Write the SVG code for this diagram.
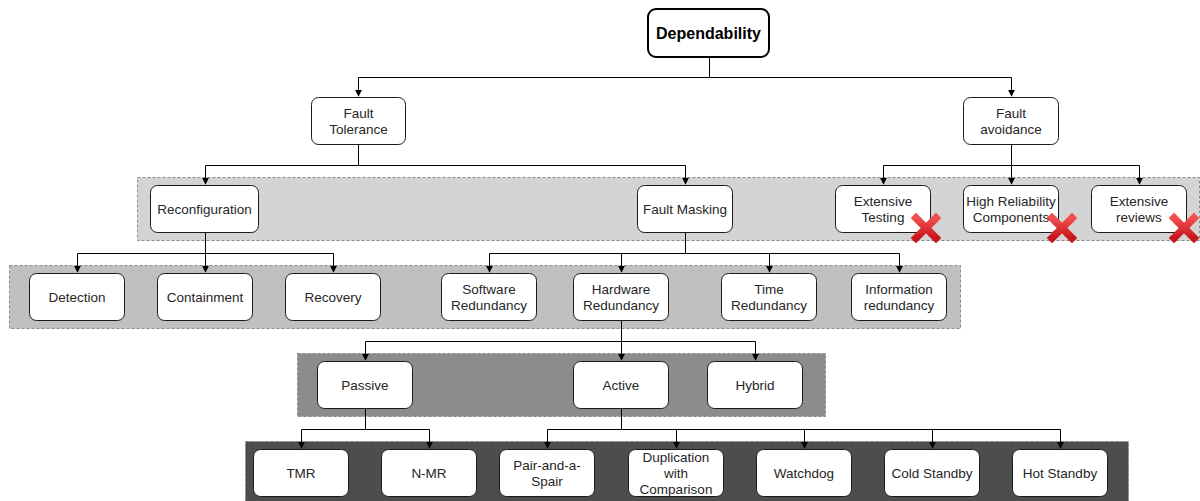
<svg xmlns="http://www.w3.org/2000/svg" width="1200" height="501" viewBox="0 0 1200 501">
  <defs>
    <marker id="arr" viewBox="0 0 10 10" refX="9" refY="5" markerWidth="7" markerHeight="7" markerUnits="userSpaceOnUse" orient="auto">
      <path d="M0,0 L10,5 L0,10 Z" fill="#000"/>
    </marker>
    <linearGradient id="xred" x1="0" y1="0" x2="0" y2="1">
      <stop offset="0" stop-color="#f25050"/>
      <stop offset="1" stop-color="#c8141b"/>
    </linearGradient>
    <g id="cross">
      <path d="M-10,-10 L10,10 M10,-10 L-10,10" stroke="url(#xred)" stroke-width="7.5" stroke-linecap="square" fill="none"/>
    </g>
  </defs>
  <style>
    .band { stroke: #8a8a8a; stroke-width: 1; stroke-dasharray: 3 2; }
    .box { fill: #fff; stroke: #1a1a1a; stroke-width: 1; }
    .root { fill: #fff; stroke: #000; stroke-width: 2; }
    .t { font-family: "Liberation Sans", Arial, sans-serif; font-size: 13.5px; fill: #262626; text-anchor: middle; }
    .tb { font-family: "Liberation Sans", Arial, sans-serif; font-size: 16px; font-weight: bold; fill: #000; text-anchor: middle; }
    .edge { fill: none; stroke: #000; stroke-width: 1; }
  </style>

  <rect width="1200" height="501" fill="#fff"/>

  <!-- grouping bands -->
  <g id="bands">
    <rect class="band" x="137.5" y="177.5" width="1062" height="63" fill="#d4d4d4"/>
    <rect class="band" x="9.5" y="265.5" width="951" height="63" fill="#c0c0c0"/>
    <rect class="band" x="297.5" y="353.5" width="528" height="63" fill="#8c8c8c"/>
    <rect class="band" x="245.5" y="441.5" width="883" height="62" fill="#4d4d4d"/>
  </g>

  <!-- connectors -->
  <g id="connectors">
    <path class="edge" d="M709.5,57 V77.5 H358.5 V96" marker-end="url(#arr)"/>
    <path class="edge" d="M709.5,77.5 H1011.5 V96" marker-end="url(#arr)"/>

    <path class="edge" d="M358.5,145 V165.5 H205.5 V184" marker-end="url(#arr)"/>
    <path class="edge" d="M358.5,165.5 H685.5 V184" marker-end="url(#arr)"/>

    <path class="edge" d="M1011.5,145 V165.5 H883.5 V184" marker-end="url(#arr)"/>
    <path class="edge" d="M1011.5,165.5 V184" marker-end="url(#arr)"/>
    <path class="edge" d="M1011.5,165.5 H1139.5 V184" marker-end="url(#arr)"/>

    <path class="edge" d="M205.5,233 V253.5 H77.5 V272" marker-end="url(#arr)"/>
    <path class="edge" d="M205.5,253.5 V272" marker-end="url(#arr)"/>
    <path class="edge" d="M205.5,253.5 H333.5 V272" marker-end="url(#arr)"/>

    <path class="edge" d="M685.5,233 V253.5 H489.5 V272" marker-end="url(#arr)"/>
    <path class="edge" d="M621.5,253.5 V272" marker-end="url(#arr)"/>
    <path class="edge" d="M685.5,253.5 H769.5 V272" marker-end="url(#arr)"/>
    <path class="edge" d="M769.5,253.5 H899.5 V272" marker-end="url(#arr)"/>

    <path class="edge" d="M621.5,321 V341.5 H365.5 V360" marker-end="url(#arr)"/>
    <path class="edge" d="M621.5,341.5 V360" marker-end="url(#arr)"/>
    <path class="edge" d="M621.5,341.5 H755.5 V360" marker-end="url(#arr)"/>

    <path class="edge" d="M365.5,409 V429.5 H301.5 V448" marker-end="url(#arr)"/>
    <path class="edge" d="M365.5,429.5 H429.5 V448" marker-end="url(#arr)"/>

    <path class="edge" d="M621.5,409 V429.5 H547.5 V448" marker-end="url(#arr)"/>
    <path class="edge" d="M621.5,429.5 H676.5 V448" marker-end="url(#arr)"/>
    <path class="edge" d="M676.5,429.5 H804.5 V448" marker-end="url(#arr)"/>
    <path class="edge" d="M804.5,429.5 H932.5 V448" marker-end="url(#arr)"/>
    <path class="edge" d="M932.5,429.5 H1060.5 V448" marker-end="url(#arr)"/>
  </g>

  <!-- level 0 -->
  <g id="dependability">
    <rect class="root" x="648" y="9" width="121" height="48" rx="8"/>
    <text class="tb" x="708.5" y="39">Dependability</text>
  </g>

  <!-- level 1 -->
  <g id="fault-tolerance">
    <rect class="box" x="311.5" y="97.5" width="94" height="47" rx="7"/>
    <text class="t" x="358.5" y="117.5">Fault</text>
    <text class="t" x="358.5" y="133.5">Tolerance</text>
  </g>
  <g id="fault-avoidance">
    <rect class="box" x="963.5" y="97.5" width="95" height="47" rx="7"/>
    <text class="t" x="1011" y="117.5">Fault</text>
    <text class="t" x="1011" y="133.5">avoidance</text>
  </g>

  <!-- level 2 -->
  <g id="reconfiguration">
    <rect class="box" x="150.5" y="185.5" width="108" height="47" rx="7"/>
    <text class="t" x="204.5" y="214">Reconfiguration</text>
  </g>
  <g id="fault-masking">
    <rect class="box" x="637.5" y="185.5" width="95" height="47" rx="7"/>
    <text class="t" x="685" y="214">Fault Masking</text>
  </g>
  <g id="extensive-testing">
    <rect class="box" x="835.5" y="185.5" width="95" height="47" rx="7"/>
    <text class="t" x="883" y="205.5">Extensive</text>
    <text class="t" x="883" y="221.5">Testing</text>
    <use href="#cross" x="926" y="228"/>
  </g>
  <g id="high-reliability-components">
    <rect class="box" x="963.5" y="185.5" width="95" height="47" rx="7"/>
    <text class="t" x="1011" y="205.5">High Reliability</text>
    <text class="t" x="1011" y="221.5">Components</text>
    <use href="#cross" x="1062" y="228"/>
  </g>
  <g id="extensive-reviews">
    <rect class="box" x="1091.5" y="185.5" width="95" height="47" rx="7"/>
    <text class="t" x="1139" y="205.5">Extensive</text>
    <text class="t" x="1139" y="221.5">reviews</text>
    <use href="#cross" x="1184" y="228"/>
  </g>

  <!-- level 3 -->
  <g id="detection">
    <rect class="box" x="29.5" y="273.5" width="95" height="47" rx="7"/>
    <text class="t" x="77" y="302">Detection</text>
  </g>
  <g id="containment">
    <rect class="box" x="157.5" y="273.5" width="95" height="47" rx="7"/>
    <text class="t" x="205" y="302">Containment</text>
  </g>
  <g id="recovery">
    <rect class="box" x="285.5" y="273.5" width="95" height="47" rx="7"/>
    <text class="t" x="333" y="302">Recovery</text>
  </g>
  <g id="software-redundancy">
    <rect class="box" x="441.5" y="273.5" width="95" height="47" rx="7"/>
    <text class="t" x="489" y="293.5">Software</text>
    <text class="t" x="489" y="309.5">Redundancy</text>
  </g>
  <g id="hardware-redundancy">
    <rect class="box" x="573.5" y="273.5" width="95" height="47" rx="7"/>
    <text class="t" x="621" y="293.5">Hardware</text>
    <text class="t" x="621" y="309.5">Redundancy</text>
  </g>
  <g id="time-redundancy">
    <rect class="box" x="721.5" y="273.5" width="95" height="47" rx="7"/>
    <text class="t" x="769" y="293.5">Time</text>
    <text class="t" x="769" y="309.5">Redundancy</text>
  </g>
  <g id="information-redundancy">
    <rect class="box" x="851.5" y="273.5" width="95" height="47" rx="7"/>
    <text class="t" x="899" y="293.5">Information</text>
    <text class="t" x="899" y="309.5">redundancy</text>
  </g>

  <!-- level 4 -->
  <g id="passive">
    <rect class="box" x="317.5" y="361.5" width="95" height="47" rx="7"/>
    <text class="t" x="365" y="390">Passive</text>
  </g>
  <g id="active">
    <rect class="box" x="573.5" y="361.5" width="95" height="47" rx="7"/>
    <text class="t" x="621" y="390">Active</text>
  </g>
  <g id="hybrid">
    <rect class="box" x="707.5" y="361.5" width="95" height="47" rx="7"/>
    <text class="t" x="755" y="390">Hybrid</text>
  </g>

  <!-- level 5 -->
  <g id="tmr">
    <rect class="box" x="253.5" y="449.5" width="95" height="47" rx="7"/>
    <text class="t" x="301" y="478">TMR</text>
  </g>
  <g id="n-mr">
    <rect class="box" x="381.5" y="449.5" width="95" height="47" rx="7"/>
    <text class="t" x="429" y="478">N-MR</text>
  </g>
  <g id="pair-and-a-spair">
    <rect class="box" x="499.5" y="449.5" width="95" height="47" rx="7"/>
    <text class="t" x="547" y="469.5">Pair-and-a-</text>
    <text class="t" x="547" y="485.5">Spair</text>
  </g>
  <g id="duplication-with-comparison">
    <rect class="box" x="628.5" y="449.5" width="95" height="47" rx="7"/>
    <text class="t" x="676" y="462">Duplication</text>
    <text class="t" x="676" y="478">with</text>
    <text class="t" x="676" y="494">Comparison</text>
  </g>
  <g id="watchdog">
    <rect class="box" x="756.5" y="449.5" width="95" height="47" rx="7"/>
    <text class="t" x="804" y="478">Watchdog</text>
  </g>
  <g id="cold-standby">
    <rect class="box" x="884.5" y="449.5" width="95" height="47" rx="7"/>
    <text class="t" x="932" y="478">Cold Standby</text>
  </g>
  <g id="hot-standby">
    <rect class="box" x="1012.5" y="449.5" width="95" height="47" rx="7"/>
    <text class="t" x="1060" y="478">Hot Standby</text>
  </g>
</svg>
